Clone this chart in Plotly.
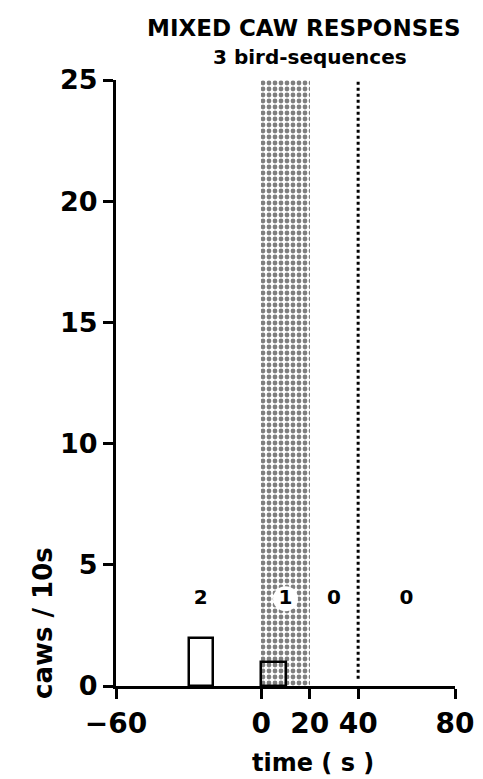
import plotly.graph_objects as go

# Data
bar_centers = [-25, 5]
bar_values = [2, 1]
bar_width = 10
count_x = [-25, 10, 30, 60]
count_labels = ["2", "1", "0", "0"]
count_y = 3.6
stim_start, stim_end = 0, 20
stim_top = 25
dotted_x = 40
x_ticks = [-60, 0, 20, 40, 80]
x_tick_labels = ["−60", "0", "20", "40", "80"]
y_ticks = [0, 5, 10, 15, 20, 25]

FONT = "DejaVu Sans"
L, R, T, B = 108, 36, 72, 101
W, H = 483, 779

fig = go.Figure()

# stippled stimulus region
fig.add_trace(go.Bar(
    x=[(stim_start + stim_end) / 2], y=[stim_top], width=[stim_end - stim_start],
    marker=dict(color="white", line=dict(width=0),
                pattern=dict(shape=".", fgcolor="black", bgcolor="white",
                             size=6, solidity=0.5)),
    hoverinfo="skip", showlegend=False))

# dotted line
fig.add_trace(go.Scatter(
    x=[dotted_x, dotted_x], y=[0.3, stim_top], mode="lines",
    line=dict(color="black", width=3, dash="dot"), showlegend=False))

# response bars
fig.add_trace(go.Bar(
    x=bar_centers, y=bar_values, width=[bar_width] * len(bar_centers),
    marker=dict(color=["white", "rgba(0,0,0,0)"], line=dict(color="black", width=2.5)),
    showlegend=False))

# white circle behind "1"
fig.add_trace(go.Scatter(
    x=[count_x[1]], y=[count_y], mode="markers",
    marker=dict(size=25, color="white", line=dict(width=0)), showlegend=False))

# count labels
fig.add_trace(go.Scatter(
    x=count_x, y=[count_y] * len(count_x), mode="text", text=count_labels,
    textfont=dict(family=FONT, size=20, color="black", weight="bold"), showlegend=False))


def px_ann(text, xp, yp, size, angle=0):
    return dict(text=text, x=(xp - L) / (W - L - R), y=(H - yp - B) / (H - T - B),
                xref="paper", yref="paper", xanchor="center", yanchor="middle",
                showarrow=False, textangle=angle,
                font=dict(size=size, family=FONT, weight="bold"))


fig.update_layout(
    width=W, height=H,
    margin=dict(l=L, r=R, t=T, b=B),
    plot_bgcolor="white", paper_bgcolor="white",
    barmode="overlay", bargap=0,
    font=dict(family=FONT, color="black"),
    xaxis=dict(range=[-60, 80], tickvals=x_ticks, ticktext=x_tick_labels,
               showgrid=False, zeroline=False, showline=True, linecolor="black",
               linewidth=3, ticks="outside", ticklen=10, tickwidth=3, tickcolor="black",
               tickfont=dict(size=28, family=FONT, weight="bold")),
    yaxis=dict(range=[0, 25], tickvals=y_ticks, showgrid=False, zeroline=False,
               showline=True, linecolor="black", linewidth=3, ticks="outside",
               ticklen=10, tickwidth=2.5, tickcolor="black",
               tickfont=dict(size=27, family=FONT, weight="bold")),
    annotations=[
        px_ann("MIXED CAW RESPONSES", 296, 20, 23),
        px_ann("3 bird-sequences", 302, 49, 20),
        px_ann("time ( s )", 305, 755, 24),
        px_ann("caws / 10s", 35, 615, 26, -90),
    ],
)

fig.write_html("out.html")
